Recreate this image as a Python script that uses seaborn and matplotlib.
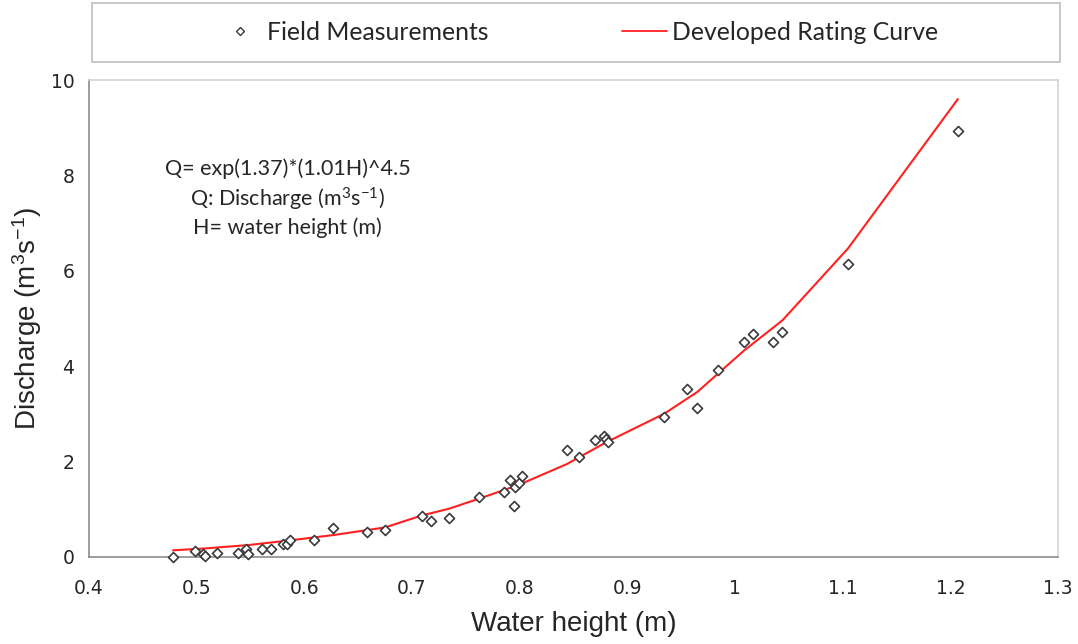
import matplotlib
matplotlib.use("Agg")
import matplotlib.pyplot as plt
import seaborn as sns
import pandas as pd
from matplotlib.patches import Rectangle
from matplotlib.lines import Line2D

# Field measurements (water height in m, discharge in m3/s)
meas_h = [0.478, 0.498, 0.506, 0.508, 0.519, 0.538, 0.546, 0.548, 0.561, 0.569,
          0.580, 0.584, 0.587, 0.609, 0.627, 0.658, 0.675, 0.709, 0.718, 0.734,
          0.762, 0.785, 0.791, 0.795, 0.796, 0.799, 0.802, 0.844, 0.855, 0.870,
          0.878, 0.880, 0.882, 0.934, 0.955, 0.965, 0.984, 1.008, 1.017, 1.035,
          1.044, 1.105, 1.207]
meas_q = [0.01, 0.13, 0.06, 0.03, 0.09, 0.09, 0.17, 0.06, 0.17, 0.17,
          0.27, 0.27, 0.36, 0.35, 0.61, 0.53, 0.57, 0.87, 0.75, 0.82,
          1.25, 1.36, 1.62, 1.07, 1.47, 1.55, 1.70, 2.24, 2.10, 2.45,
          2.54, 2.47, 2.42, 2.94, 3.52, 3.12, 3.92, 4.50, 4.68, 4.50,
          4.72, 6.14, 8.94]

# Developed rating curve
curve_h = [0.478, 0.508, 0.548, 0.587, 0.627, 0.675, 0.709, 0.734, 0.762, 0.800,
           0.844, 0.880, 0.934, 0.965, 1.008, 1.044, 1.105, 1.207]
curve_q = [0.14, 0.18, 0.25, 0.35, 0.46, 0.62, 0.87, 1.01, 1.22, 1.52,
           1.95, 2.40, 3.00, 3.46, 4.32, 4.96, 6.47, 9.60]

x_ticks = [0.4, 0.5, 0.6, 0.7, 0.8, 0.9, 1.0, 1.1, 1.2, 1.3]
x_tick_labels = ["0.4", "0.5", "0.6", "0.7", "0.8", "0.9", "1", "1.1", "1.2", "1.3"]
y_ticks = [0, 2, 4, 6, 8, 10]

meas_df = pd.DataFrame({"h": meas_h, "q": meas_q})
curve_df = pd.DataFrame({"h": curve_h, "q": curve_q})

sns.set_style("white")
plt.rcParams["font.family"] = ["DejaVu Sans"]
plt.rcParams["mathtext.default"] = "regular"

fig = plt.figure(figsize=(10.78, 6.44), dpi=100)
ax = fig.add_axes([89 / 1078, 87 / 644, 969 / 1078, 477 / 644])

sns.lineplot(data=curve_df, x="h", y="q", ax=ax, color="#ff2020", linewidth=1.5,
             sort=False, estimator=None, zorder=2)
sns.scatterplot(data=meas_df, x="h", y="q", ax=ax, marker="D", s=26,
                facecolor="white", edgecolor="#3a3a3a", linewidth=1.2, zorder=3,
                clip_on=False)

ax.set_xlim(0.4, 1.3)
ax.set_ylim(0, 10)
ax.set_xticks(x_ticks)
ax.set_xticklabels(x_tick_labels)
ax.set_yticks(y_ticks)

axis_col = "#8c8c8c"
for s in ["left", "bottom"]:
    ax.spines[s].set_color(axis_col)
    ax.spines[s].set_linewidth(1.2)
for s in ["top", "right"]:
    ax.spines[s].set_visible(True)
    ax.spines[s].set_color("#d4d4d4")
    ax.spines[s].set_linewidth(1.2)

ax.tick_params(axis="both", which="major", direction="inout", length=13,
               width=1.2, color=axis_col, labelsize=13.5, labelcolor="#262626")
ax.tick_params(axis="x", pad=9)
ax.tick_params(axis="y", pad=4)
ax.tick_params(top=False, right=False)

ax.set_xlabel("Water height (m)", family=["Liberation Sans", "DejaVu Sans"],
              fontsize=20, color="#262626", labelpad=10)
ax.set_ylabel("Discharge (m$^{3}$s$^{-1}$)", family=["Liberation Sans", "DejaVu Sans"],
              fontsize=20, color="#262626", labelpad=5)

ax.text(0.205, 0.752, "Q= exp(1.37)*(1.01H)^4.5\nQ: Discharge (m$^{3}$s$^{-1}$)\nH= water height (m)",
        transform=ax.transAxes, ha="center", va="center", fontsize=15.5,
        family=["Lato", "DejaVu Sans"], color="#262626", linespacing=1.3)

# Legend
fig.patches.append(Rectangle((92 / 1078, 1 - 62 / 644), 968 / 1078, 59 / 644,
                             transform=fig.transFigure, facecolor="white",
                             edgecolor="#bfbfbf", linewidth=1.2, zorder=0))
handles = [Line2D([], [], linestyle="none", marker="D", markersize=4,
                  markerfacecolor="white", markeredgecolor="#3a3a3a", markeredgewidth=1.0),
           Line2D([], [], color="#ff2020", linewidth=1.3)]
leg = fig.legend(handles, ["Field Measurements", "Developed Rating Curve"],
                 loc="center", bbox_to_anchor=(578 / 1078, 1 - 32 / 644), ncol=2,
                 frameon=False, handlelength=1.8, handletextpad=0.2, columnspacing=5.4,
                 prop={"family": ["Lato", "DejaVu Sans"], "size": 17.8})
for t in leg.get_texts():
    t.set_color("#262626")

fig.savefig("out.png", dpi=100)
